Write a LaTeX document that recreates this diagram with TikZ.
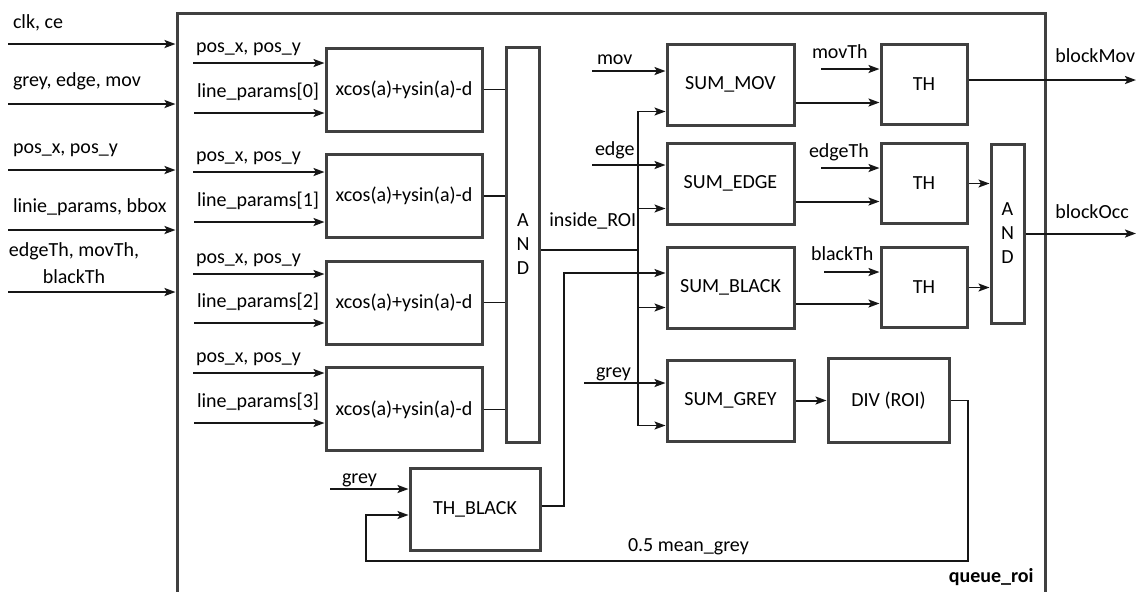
\documentclass[tikz,border=0pt]{standalone}
\usepackage{fontspec}
\setmainfont{Carlito}
\usepackage{xcolor}
\definecolor{boxgray}{RGB}{64,64,64}
\definecolor{ink}{RGB}{22,22,22}
\newcommand\blkfont{\fontsize{10}{12}\selectfont}
\usetikzlibrary{arrows.meta,positioning}

\begin{document}
\begin{tikzpicture}[
  x=0.5pt, y=-0.5pt,
  blk/.style={rectangle,draw=boxgray,line width=1.5pt,inner sep=0pt,
              font=\blkfont,align=center},
  xbox/.style={blk,minimum width=78pt,minimum height=41.5pt},
  sumbox/.style={blk,minimum width=63.5pt,minimum height=40.5pt},
  thbox/.style={blk,minimum width=43pt,minimum height=40pt},
  andbox/.style={blk,minimum width=16.5pt},
  lbl/.style={font=\blkfont,inner sep=0pt,anchor=base west,yshift=#1},
  lbl/.default=8pt,
  arr/.style={-{Stealth[length=5.5pt,width=4pt,inset=1.2pt]},line width=1pt,draw=ink},
  tarr/.style={arr,line width=0.75pt},
  wire/.style={line width=0.75pt,draw=ink},
  node distance=10.3pt,
]
  \useasboundingbox (0,0) rectangle (1137,591);

  % outer block
  \node[blk,minimum width=434pt,minimum height=303.5pt](roi) at (611,316.5){};
  \node[font=\blkfont\bfseries,inner sep=0pt,anchor=base east] at (1034,582){queue\_roi};

  % inputs of queue_roi
  \coordinate (i0) at (8,44);
  \coordinate (i1) at (8,104);
  \coordinate (i2) at (8,170);
  \coordinate (i3) at (8,230);
  \coordinate (i4) at (8,292);
  \draw[arr] (i0) -- node[lbl=8pt,pos=0,xshift=2pt]{clk, ce} (i0 -| roi.west);
  \draw[arr] (i1) -- node[lbl=9pt,pos=0,xshift=2pt]{grey, edge, mov} (i1 -| roi.west);
  \draw[arr] (i2) -- node[lbl=8.5pt,pos=0,xshift=2pt]{pos\_x, pos\_y} (i2 -| roi.west);
  \draw[arr] (i3) -- node[lbl=9pt,pos=0,xshift=2pt]{linie\_params, bbox} (i3 -| roi.west);
  \draw[arr] (i4) -- (i4 -| roi.west);
  \node[font=\blkfont,inner sep=0pt,align=center,anchor=base] at (74,283){edgeTh, movTh,\\[1.5pt]blackTh};

  % line distance blocks
  \node[xbox](x0) at (404,89.5){xcos(a)+ysin(a)-d};
  \node[xbox,below=of x0](x1){xcos(a)+ysin(a)-d};
  \node[xbox,below=of x1](x2){xcos(a)+ysin(a)-d};
  \node[xbox,below=of x2](x3){xcos(a)+ysin(a)-d};

  \coordinate (p0) at (193,63);  \coordinate (l0) at (194,113);
  \coordinate (p1) at (193,172); \coordinate (l1) at (194,222);
  \coordinate (p2) at (193,274); \coordinate (l2) at (194,323);
  \coordinate (p3) at (193,373); \coordinate (l3) at (194,423);
  \draw[arr] (p0) -- node[lbl=5.5pt,pos=0,xshift=1pt]{pos\_x, pos\_y} (p0 -| x0.west);
  \draw[arr] (l0) -- node[lbl=8pt,pos=0,xshift=1pt]{line\_params[0]} (l0 -| x0.west);
  \draw[arr] (p1) -- node[lbl=5.5pt,pos=0,xshift=1pt]{pos\_x, pos\_y} (p1 -| x1.west);
  \draw[arr] (l1) -- node[lbl=8pt,pos=0,xshift=1pt]{line\_params[1]} (l1 -| x1.west);
  \draw[arr] (p2) -- node[lbl=5.5pt,pos=0,xshift=1pt]{pos\_x, pos\_y} (p2 -| x2.west);
  \draw[arr] (l2) -- node[lbl=8pt,pos=0,xshift=1pt]{line\_params[2]} (l2 -| x2.west);
  \draw[arr] (p3) -- node[lbl=5.5pt,pos=0,xshift=1pt]{pos\_x, pos\_y} (p3 -| x3.west);
  \draw[arr] (l3) -- node[lbl=8pt,pos=0,xshift=1pt]{line\_params[3]} (l3 -| x3.west);

  % AND of the four lines
  \node[andbox,minimum height=197.5pt](and1) at (523,244.5){A\\N\\D};
  \draw[wire] (x0.east) -- (x0.east -| and1.west);
  \draw[wire] (x1.east) -- (x1.east -| and1.west);
  \draw[wire] (x2.east) -- (x2.east -| and1.west);
  \draw[wire] (x3.east) -- (x3.east -| and1.west);

  % black threshold
  \node[blk,minimum width=65pt,minimum height=41pt](thb) at (475,509){TH\_BLACK};
  \coordinate (gb) at (330,489);
  \draw[arr] (gb) -- node[lbl=3pt,pos=0,xshift=5.5pt]{grey} (gb -| thb.west);

  % sums
  \node[sumbox](summov) at (730.5,84.5){SUM\_MOV};
  \node[sumbox](sumedge) at (730.5,183.5){SUM\_EDGE};
  \node[sumbox](sumblack) at (730.5,287.5){SUM\_BLACK};
  \node[sumbox](sumgrey) at (730.5,400.5){SUM\_GREY};
  \node[blk,minimum width=60.5pt,minimum height=42pt,right=15.5pt of sumgrey](div){DIV (ROI)};

  \coordinate (mv) at (592,71);
  \coordinate (ed) at (592,165);
  \coordinate (gr) at (584,383);
  \draw[arr] (mv) -- node[lbl=3.5pt,pos=0,xshift=2pt]{mov} (mv -| summov.west);
  \draw[arr] (ed) -- node[lbl=5pt,pos=0,xshift=1pt]{edge} (ed -| sumedge.west);
  \draw[arr] (gr) -- node[lbl=3pt,pos=0,xshift=5.5pt]{grey} (gr -| sumgrey.west);

  % inside_ROI bus
  \coordinate (bus) at (638,250);
  \draw[wire] (and1.east |- bus) -- (bus);
  \node[lbl=0pt] at (549,226){inside\_ROI};
  \draw[tarr] (bus) |- ([yshift=7.5pt]summov.south west);
  \draw[tarr] (bus) |- ([yshift=8.5pt]sumedge.south west);
  \draw[tarr] (bus) |- ([yshift=11pt]sumblack.south west);
  \draw[tarr] (bus) |- ([yshift=8.5pt]sumgrey.south west);

  \coordinate (tbk) at (564,273);
  \draw[tarr] ([yshift=1.5pt]thb.east) -| (tbk) -- (tbk -| sumblack.west);

  % thresholds
  \node[thbox,right=42pt of summov](th1){TH};
  \node[thbox,right=42pt of sumedge](th2){TH};
  \node[thbox,right=42pt of sumblack](th3){TH};

  \coordinate (mt) at (821,69);
  \coordinate (et) at (821,168);
  \coordinate (bt) at (824,272);
  \draw[arr] (mt) -- node[lbl=5.5pt,pos=0,xshift=-5pt]{movTh} (mt -| th1.west);
  \draw[arr] (et) -- node[lbl=5.5pt,pos=0,xshift=-6.5pt]{edgeTh} (et -| th2.west);
  \draw[arr] (bt) -- node[lbl=6pt,pos=0,xshift=-7pt]{blackTh} (bt -| th3.west);

  \draw[arr] ([yshift=-9pt]summov.east) -- ([yshift=-9pt]summov.east -| th1.west);
  \draw[arr] ([yshift=-9pt]sumedge.east) -- ([yshift=-9pt]sumedge.east -| th2.west);
  \draw[arr] ([yshift=-8pt]sumblack.east) -- ([yshift=-8pt]sumblack.east -| th3.west);

  \node[andbox,minimum height=89.5pt](and2) at (1007.5,233.5){A\\N\\D};
  \draw[tarr] (th2.east) -- (th2.east -| and2.west);
  \draw[tarr] (th3.east) -- (th3.east -| and2.west);

  % outputs
  \coordinate (om) at (1136,80);
  \coordinate (oo) at (1136,233.5);
  \draw[arr] (om -| th1.east) -- (om);
  \draw[arr] (and2.east) -- (oo);
  \node[lbl=0pt] at (1055,62){blockMov};
  \node[lbl=0pt] at (1055,218){blockOcc};

  % mean grey feedback
  \draw[arr] (sumgrey) -- (div);
  \coordinate (fbr) at (968,561);
  \coordinate (fbl) at (366,561);
  \draw[tarr] (div.east) -| (fbr) -- node[lbl=5pt,pos=0.566]{0.5 mean\_grey} (fbl)
    |- ([yshift=-3pt]thb.west);
\end{tikzpicture}
\end{document}
